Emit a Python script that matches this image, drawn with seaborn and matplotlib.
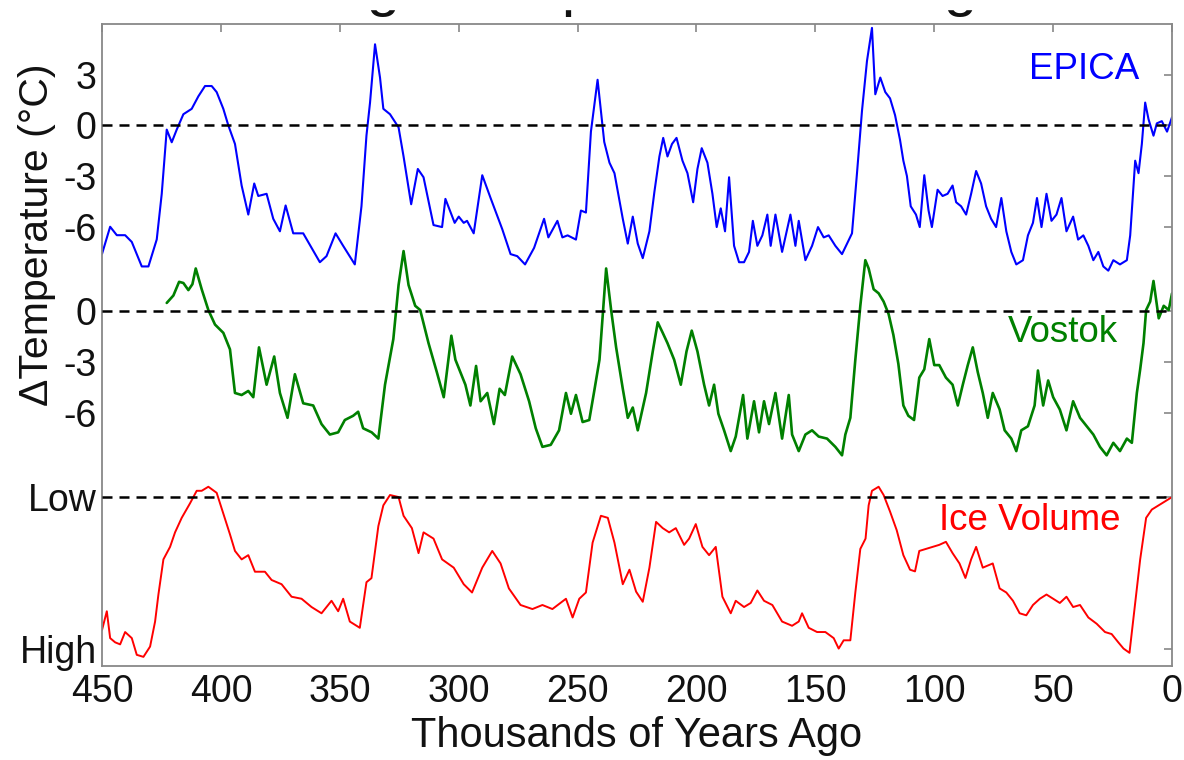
import matplotlib

matplotlib.use("Agg")
import matplotlib.pyplot as plt
import pandas as pd
import seaborn as sns
from matplotlib.patches import Rectangle

# ---- data (ages in thousands of years ago) ----
epica_age = [
    450.0, 446.6, 443.8, 440.3, 437.5, 433.3, 430.5, 427.0, 424.9, 422.8,
    420.7, 418.6, 415.8, 412.3, 409.5, 406.7, 403.9, 401.8, 399.0, 396.9,
    394.1, 391.3, 388.5, 386.0, 384.3, 380.8, 378.0, 375.2, 372.8, 369.6,
    365.4, 361.9, 358.4, 355.6, 351.8, 348.6, 343.7, 340.9, 338.8, 337.3,
    335.2, 333.1, 331.7, 328.9, 325.3, 323.2, 320.0, 317.2, 314.8, 310.6,
    307.0, 305.6, 301.7, 300.0, 297.9, 296.5, 293.7, 290.1, 286.6, 281.7,
    278.2, 275.4, 272.1, 268.3, 264.1, 262.3, 258.5, 256.4, 254.2, 250.7,
    248.6, 246.5, 244.4, 241.6, 238.8, 236.6, 234.5, 231.0, 228.9, 226.8,
    224.7, 222.6, 219.8, 217.7, 215.6, 214.0, 212.2, 210.3, 208.4, 205.9,
    203.8, 201.4, 199.6, 197.8, 195.4, 193.3, 191.5, 189.8, 188.0, 186.3,
    184.2, 182.1, 180.0, 177.9, 176.3, 174.4, 172.3, 170.2, 168.8, 166.8,
    164.0, 160.5, 158.4, 157.0, 154.2, 151.4, 148.9, 146.5, 144.4, 141.6,
    138.8, 136.7, 134.6, 132.5, 130.4, 128.3, 126.2, 124.8, 122.7, 120.6,
    118.6, 116.5, 114.4, 113.0, 111.5, 109.9, 107.7, 106.1, 104.2, 102.4,
    101.0, 98.6, 96.5, 94.4, 92.3, 90.8, 88.7, 86.6, 84.5, 82.4,
    80.3, 78.2, 76.1, 74.0, 71.8, 69.7, 67.6, 65.5, 62.7, 60.6,
    58.5, 56.8, 54.9, 52.8, 50.7, 48.6, 46.5, 44.4, 41.6, 39.5,
    37.3, 35.2, 33.1, 31.0, 28.9, 26.8, 24.7, 21.9, 19.0, 17.6,
    15.5, 14.1, 12.7, 11.3, 9.9, 7.8, 6.4, 4.3, 2.1, 0.0,
]
epica_temp = [
    -7.6, -6.0, -6.5, -6.5, -6.9, -8.35, -8.35, -6.75, -4.05, -0.25,
    -1.0, -0.25, 0.66, 0.98, 1.72, 2.33, 2.33, 1.97, 0.98, 0.0,
    -1.1, -3.56, -5.28, -3.44, -4.18, -4.05, -5.53, -6.27, -4.74, -6.39,
    -6.39, -7.25, -8.1, -7.74, -6.39, -7.13, -8.23, -4.79, -0.6, 1.35,
    4.8, 2.83, 0.98, 0.66, -0.12, -1.84, -4.67, -2.58, -3.07, -5.9,
    -6.02, -4.35, -5.77, -5.4, -5.77, -5.65, -6.39, -2.95, -4.3, -6.14,
    -7.62, -7.74, -8.23, -7.25, -5.53, -6.63, -5.65, -6.63, -6.51, -6.76,
    -5.04, -5.16, -0.37, 2.7, -0.98, -2.21, -2.83, -5.53, -7.0, -5.4,
    -7.0, -7.86, -6.27, -3.93, -1.84, -0.74, -1.84, -1.1, -0.74, -2.09,
    -2.83, -4.55, -2.58, -1.35, -2.21, -4.05, -6.02, -4.91, -6.27, -3.07,
    -7.13, -8.1, -8.1, -7.49, -5.65, -7.13, -6.51, -5.28, -7.13, -5.28,
    -7.49, -5.28, -7.13, -5.65, -7.98, -7.13, -6.02, -6.63, -6.51, -7.13,
    -7.62, -7.0, -6.39, -2.83, 0.86, 3.81, 5.77, 1.84, 2.83, 1.97,
    1.6, 0.61, -0.86, -2.09, -3.0, -4.79, -5.28, -6.02, -2.95, -5.04,
    -6.02, -3.81, -4.18, -4.05, -3.56, -4.55, -4.79, -5.28, -4.05, -2.7,
    -3.44, -4.79, -5.53, -6.02, -4.3, -6.27, -7.49, -8.23, -7.98, -6.51,
    -5.77, -4.3, -6.02, -4.05, -5.65, -5.28, -4.3, -6.27, -5.4, -6.76,
    -6.51, -7.13, -7.98, -7.49, -8.35, -8.6, -7.98, -8.23, -7.98, -6.51,
    -2.09, -2.83, -1.1, 1.35, 0.37, -0.61, 0.12, 0.25, -0.37, 0.49,
]

vostok_age = [
    422.8, 420.0, 417.6, 415.8, 413.7, 412.0, 410.6, 408.1, 405.3, 402.5,
    399.0, 396.2, 394.1, 391.3, 388.5, 386.4, 384.0, 380.8, 377.6, 375.2,
    372.0, 368.9, 365.4, 361.2, 357.7, 354.2, 350.7, 347.9, 344.4, 342.3,
    340.2, 336.6, 333.8, 331.0, 327.5, 325.3, 323.2, 321.1, 318.3, 316.2,
    312.7, 309.2, 306.3, 303.1, 301.4, 297.2, 295.1, 292.7, 290.8, 288.0,
    285.2, 282.8, 280.6, 277.5, 274.0, 270.4, 267.6, 264.8, 261.3, 257.8,
    254.9, 252.8, 250.7, 247.9, 245.1, 243.0, 240.8, 238.0, 235.9, 233.8,
    231.0, 228.9, 226.8, 224.7, 221.2, 218.4, 216.3, 214.2, 212.2, 209.4,
    206.6, 204.2, 202.0, 199.6, 196.8, 194.7, 192.6, 190.8, 188.4, 185.6,
    183.5, 180.4, 178.6, 175.8, 173.7, 171.6, 169.5, 166.8, 164.0, 161.2,
    159.8, 157.0, 154.2, 151.4, 148.6, 145.1, 141.6, 138.8, 137.4, 135.3,
    133.2, 131.1, 129.0, 127.6, 125.5, 123.4, 121.3, 119.2, 117.2, 115.1,
    113.0, 110.9, 108.5, 106.3, 104.2, 102.1, 100.0, 97.9, 95.1, 92.3,
    90.1, 88.0, 85.9, 83.8, 81.7, 79.6, 77.5, 75.4, 72.5, 70.4,
    67.6, 65.5, 63.4, 60.6, 57.8, 56.4, 54.2, 52.1, 50.0, 47.2,
    44.4, 41.6, 38.7, 35.9, 33.1, 30.3, 27.5, 24.7, 21.9, 19.0,
    16.9, 14.8, 13.4, 12.0, 10.9, 9.2, 7.8, 5.6, 3.5, 1.4,
    0.0,
]
vostok_temp = [
    0.49, 0.93, 1.74, 1.67, 1.25, 1.6, 2.53, 1.3, 0.07, -0.79,
    -1.28, -2.26, -4.84, -4.96, -4.72, -5.09, -2.14, -4.35, -2.68, -4.84,
    -6.31, -3.73, -5.45, -5.58, -6.68, -7.3, -7.17, -6.44, -6.19, -5.95,
    -6.93, -7.17, -7.54, -4.35, -1.65, 1.55, 3.56, 1.55, 0.32, 0.07,
    -1.89, -3.61, -5.09, -1.45, -2.87, -4.35, -5.58, -3.24, -5.33, -4.84,
    -6.68, -4.59, -4.96, -2.68, -3.73, -5.33, -6.93, -8.03, -7.91, -7.05,
    -4.84, -6.07, -4.96, -6.56, -6.44, -4.72, -2.87, 2.53, 0.07, -2.14,
    -4.59, -6.31, -5.7, -7.05, -4.84, -2.38, -0.66, -1.28, -1.89, -2.87,
    -4.35, -2.38, -1.15, -2.38, -4.35, -5.58, -4.35, -6.07, -7.05, -8.28,
    -7.42, -4.96, -7.54, -5.33, -7.17, -5.33, -6.68, -4.84, -7.54, -4.96,
    -7.3, -8.28, -7.3, -7.05, -7.42, -7.54, -8.03, -8.53, -7.3, -6.31,
    -2.87, 0.32, 3.02, 2.53, 1.3, 1.06, 0.57, -0.17, -1.4, -3.12,
    -5.58, -6.19, -6.44, -3.93, -3.44, -1.65, -3.19, -3.19, -3.93, -4.35,
    -5.58, -4.35, -3.19, -2.14, -3.61, -4.84, -6.31, -4.84, -5.82, -7.05,
    -7.54, -8.28, -7.05, -6.81, -5.58, -3.51, -5.58, -4.1, -5.09, -5.82,
    -7.05, -5.33, -6.31, -6.81, -7.3, -8.03, -8.53, -7.79, -8.28, -7.54,
    -7.79, -4.84, -3.44, -1.89, 0.07, 0.57, 1.79, -0.42, 0.32, 0.07,
    1.06,
]

# ice volume on a relative scale: 0 = Low, -9 = High
ice_age = [
    450.0, 448.0, 446.6, 444.5, 442.4, 440.3, 437.5, 435.4, 432.6, 429.8,
    427.7, 426.3, 424.2, 421.4, 419.3, 416.5, 413.0, 410.2, 408.1, 405.3,
    401.8, 399.0, 396.2, 394.1, 391.3, 388.5, 385.7, 381.5, 378.7, 374.5,
    370.3, 366.1, 361.9, 357.7, 353.5, 350.7, 348.6, 345.8, 341.6, 338.8,
    336.7, 333.8, 331.7, 328.9, 325.3, 323.2, 319.7, 316.9, 314.8, 310.6,
    307.0, 302.1, 297.9, 294.4, 290.1, 285.9, 282.4, 278.9, 274.0, 269.0,
    264.8, 260.6, 254.9, 252.1, 249.3, 246.5, 243.7, 240.2, 237.3, 234.5,
    231.0, 228.2, 225.4, 222.6, 219.8, 217.0, 214.2, 211.5, 208.7, 205.2,
    203.1, 200.3, 197.5, 194.7, 191.9, 189.1, 185.6, 183.5, 180.0, 177.2,
    174.4, 171.6, 168.1, 164.0, 159.8, 157.0, 155.6, 152.8, 149.3, 145.8,
    142.3, 140.2, 138.1, 135.3, 133.2, 131.1, 128.9, 127.6, 126.2, 123.4,
    121.3, 118.6, 115.8, 113.0, 110.2, 108.1, 106.3, 103.5, 100.7, 97.9,
    95.1, 92.3, 89.4, 86.9, 84.5, 82.4, 79.6, 75.4, 72.5, 69.7,
    66.9, 64.1, 61.3, 58.5, 55.6, 52.8, 50.0, 47.2, 44.4, 41.6,
    38.7, 35.2, 31.7, 28.2, 25.4, 22.6, 20.4, 17.9, 16.2, 13.4,
    10.9, 8.5, 5.6, 2.8, 0.0,
]
ice_volume = [
    -7.86, -6.76, -8.35, -8.6, -8.72, -7.99, -8.35, -9.34, -9.46, -8.85,
    -7.37, -5.77, -3.69, -2.95, -2.09, -1.23, -0.37, 0.37, 0.37, 0.61,
    0.25, -0.98, -2.21, -3.19, -3.69, -3.44, -4.42, -4.42, -4.91, -5.16,
    -5.9, -6.02, -6.51, -6.88, -6.14, -6.76, -6.02, -7.37, -7.74, -5.04,
    -4.8, -1.72, -0.49, 0.12, 0.0, -1.11, -1.84, -3.32, -2.09, -2.46,
    -3.69, -4.18, -5.16, -5.65, -4.18, -3.19, -3.93, -5.41, -6.39, -6.63,
    -6.39, -6.63, -6.02, -7.13, -6.02, -5.65, -2.7, -1.11, -1.23, -2.7,
    -5.16, -4.3, -5.6, -6.2, -4.18, -1.47, -1.84, -2.09, -1.84, -2.83,
    -2.46, -1.6, -2.95, -3.44, -2.95, -5.9, -6.88, -6.14, -6.51, -6.27,
    -5.53, -6.14, -6.39, -7.37, -7.62, -7.37, -6.88, -7.74, -7.99, -7.99,
    -8.35, -8.97, -8.48, -8.48, -5.65, -3.07, -2.46, -0.49, 0.37, 0.61,
    0.12, -0.86, -1.96, -3.44, -4.3, -4.4, -3.19, -3.07, -2.95, -2.83,
    -2.65, -3.32, -3.93, -4.79, -3.69, -2.95, -4.18, -3.93, -5.41, -5.65,
    -6.14, -6.88, -7.0, -6.39, -6.02, -5.77, -6.02, -6.27, -5.9, -6.51,
    -6.39, -7.13, -7.5, -7.99, -8.11, -8.6, -8.97, -9.22, -7.13, -3.69,
    -1.23, -0.74, -0.49, -0.25, 0.0,
]

series_names = ["EPICA", "Vostok", "Ice Volume"]
series_colors = ["#0000ff", "#008000", "#ff0000"]
y_tick_labels = ["3", "0", "-3", "-6", "0", "-3", "-6", "Low", "High"]
x_tick_values = [450, 400, 350, 300, 250, 200, 150, 100, 50, 0]

# vertical stacking of the three records on one axis
OFFSETS = {"EPICA": 0.0, "Vostok": -11.0, "Ice Volume": -22.0}
WIDTHS = {"EPICA": 1.5, "Vostok": 1.9, "Ice Volume": 1.4}
Y_TICKS = [3, 0, -3, -6, -11, -14, -17, -22, -31]


def build_frame() -> pd.DataFrame:
    parts = []
    for name, age, val in [
        ("EPICA", epica_age, epica_temp),
        ("Vostok", vostok_age, vostok_temp),
        ("Ice Volume", ice_age, ice_volume),
    ]:
        part = pd.DataFrame({"age": age, "value": val})
        part["series"] = name
        part["y"] = part["value"] + OFFSETS[name]
        parts.append(part)
    return pd.concat(parts, ignore_index=True)


def main() -> None:
    sns.set_theme(style="white")
    plt.rcParams["font.family"] = ["Liberation Sans", "DejaVu Sans"]
    plt.rcParams["axes.unicode_minus"] = False

    df = build_frame()
    palette = dict(zip(series_names, series_colors))

    fig = plt.figure(figsize=(11.84, 7.6), dpi=100)
    ax = fig.add_axes([0.0862, 0.1237, 0.9037, 0.8447])

    for name in series_names:
        sns.lineplot(
            data=df[df["series"] == name], x="age", y="y",
            color=palette[name], estimator=None, sort=False,
            linewidth=WIDTHS[name], ax=ax,
        )

    for level in [OFFSETS["EPICA"], OFFSETS["Vostok"], OFFSETS["Ice Volume"]]:
        ax.axhline(level, color="black", linewidth=1.8,
                   linestyle=(0, (4, 2.8)), zorder=5)

    ax.set_xlim(450, 0)
    ax.set_ylim(-32, 6)
    ax.set_xticks(x_tick_values)
    ax.set_xticklabels([str(v) for v in x_tick_values])
    ax.set_yticks(Y_TICKS)
    ax.set_yticklabels(y_tick_labels)
    ax.tick_params(axis="both", direction="in", length=6, width=1.2,
                   color="#888888", labelsize=27, labelcolor="#111111",
                   top=True, right=True)
    ax.tick_params(axis="x", pad=6)
    ax.tick_params(axis="y", pad=4)
    for spine in ax.spines.values():
        spine.set_color("#888888")
        spine.set_linewidth(1.3)

    ax.set_xlabel("Thousands of Years Ago", fontsize=30, color="#111111")
    ax.xaxis.set_label_coords(0.5, -0.078)
    ax.set_ylabel("\u0394Temperature (\u00b0C)", fontsize=29.5, color="#111111")
    ax.yaxis.set_label_coords(-0.043, 0.671)

    ax.text(13.9, 3.3, "EPICA", color="#0000ff", fontsize=26.5,
            ha="right", va="center")
    ax.text(22.7, -12.25, "Vostok", color="#008000", fontsize=26.5,
            ha="right", va="center")
    ax.text(21.5, -23.4, "Ice Volume", color="#ff0000", fontsize=26.5,
            ha="right", va="center")

    # the title sits above the canvas in the reference; only the
    # descenders of g, p, g show below a blank strip
    fig.text(0.538, 1 - 5 / 760, "Ice Age Temperature Changes", fontsize=43,
             ha="center", va="baseline", color="#111111")
    fig.patches.append(Rectangle((0, 1 - 9 / 760), 1, 9 / 760,
                                 transform=fig.transFigure, color="white",
                                 zorder=20))

    fig.savefig("out.png", dpi=100)
    plt.close(fig)


if __name__ == "__main__":
    main()
